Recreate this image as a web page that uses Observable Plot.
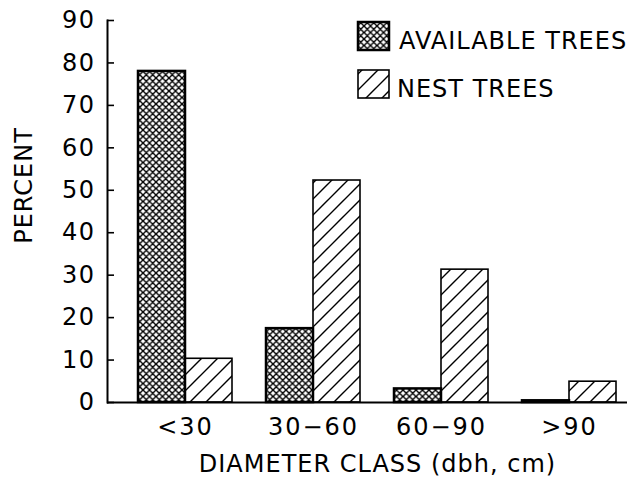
<!DOCTYPE html>
<html><head><meta charset="utf-8">
<script src="https://cdn.jsdelivr.net/npm/d3@7"></script>
<script src="https://cdn.jsdelivr.net/npm/@observablehq/plot@0.6"></script>
<style>body{margin:0;background:#fff}</style>
</head><body><div id="chart"></div>
<script>
const classes = ["<30", "30−60", "60−90", ">90"];
const availableTrees = [78.0, 17.4, 3.2, 0.4];
const nestTrees = [10.3, 52.3, 31.3, 4.9];
const yTicks = [0, 10, 20, 30, 40, 50, 60, 70, 80, 90];
const seriesNames = ["AVAILABLE TREES", "NEST TREES"];
const xLabel = "DIAMETER CLASS (dbh, cm)";
const yLabel = "PERCENT";

const avail = classes.map((c, i) => ({cls: c, v: availableTrees[i]}));
const nest = classes.map((c, i) => ({cls: c, v: nestTrees[i]}));
const FONT = "'DejaVu Sans', sans-serif";

const svg = Plot.plot({
  width: 640, height: 478,
  marginLeft: 107, marginRight: 13, marginTop: 20, marginBottom: 76,
  style: {fontFamily: FONT, fontSize: "24px", color: "black", background: "white", letterSpacing: "1px"},
  x: {domain: classes, paddingInner: 0.265, paddingOuter: 0.163, align: 0.74, label: null},
  y: {domain: [0, 90], label: null},
  marks: [
    Plot.barY(nest, {x: "cls", y: "v", insetLeft: 47, fill: "url(#hatch)", stroke: "black", strokeWidth: 1.6}),
    Plot.barY(avail, {x: "cls", y: "v", insetRight: 47, fill: "url(#xhatch)", stroke: "black", strokeWidth: 2.5}),
    Plot.ruleY([0], {stroke: "black", strokeWidth: 2}),
    Plot.frame({anchor: "left", stroke: "black", strokeWidth: 2}),
    Plot.axisY({ticks: yTicks, tickSize: -7, tickPadding: 19, strokeWidth: 1.6, label: null, fontSize: 24}),
    Plot.axisX({tickSize: 0, tickPadding: 15, label: null, fontSize: 24}),
    Plot.text([xLabel], {frameAnchor: "bottom", textAnchor: "middle", dx: 10, dy: 62, lineAnchor: "middle", fontSize: 24, fill: "black"}),
    Plot.text([yLabel], {frameAnchor: "left", textAnchor: "middle", rotate: -90, dx: -83, dy: -26, lineAnchor: "middle", fontSize: 24, fill: "black"})
  ]
});

const s = d3.select(svg);
s.selectAll("[aria-label='x-axis tick label'] text").style("letter-spacing", "2px");
s.selectAll("[aria-label='y-axis tick label'] text").style("letter-spacing", "1.5px");
const defs = s.insert("defs", ":first-child");
const xp = defs.append("pattern").attr("id", "xhatch").attr("patternUnits", "userSpaceOnUse").attr("width", 6.5).attr("height", 6.5);
xp.append("rect").attr("width", 6.5).attr("height", 6.5).attr("fill", "white");
xp.append("path").attr("d", "M0,0L6.5,6.5M0,6.5L6.5,0M-1,1L1,-1M5.5,7.5L7.5,5.5M-1,5.5L1,7.5M5.5,-1L7.5,1").attr("stroke", "black").attr("stroke-width", 1.4);
const hp = defs.append("pattern").attr("id", "hatch").attr("patternUnits", "userSpaceOnUse").attr("width", 16).attr("height", 16);
hp.append("rect").attr("width", 16).attr("height", 16).attr("fill", "white");
hp.append("path").attr("d", "M0,16L16,0M-2,2L2,-2M14,18L18,14").attr("stroke", "black").attr("stroke-width", 1.4);

// legend
const lg = s.append("g").attr("font-family", FONT).attr("font-size", 24).attr("fill", "black").attr("text-anchor", "start");
const fills = ["url(#xhatch)", "url(#hatch)"];
const widths = [2.5, 1.6];
seriesNames.forEach((name, i) => {
  const y0 = 22 + i * 48;
  lg.append("rect").attr("x", 358).attr("y", y0).attr("width", 31).attr("height", 28)
    .attr("fill", fills[i]).attr("stroke", "black").attr("stroke-width", widths[i]);
  lg.append("text").attr("x", 399 - i * 2).attr("y", y0 + 27).attr("text-anchor", "start").text(name);
});

document.getElementById("chart").appendChild(svg);
</script>
</body></html>
